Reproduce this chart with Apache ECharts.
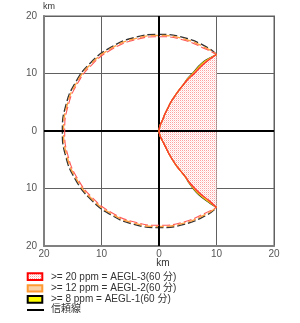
<!DOCTYPE html>
<html>
<head>
<meta charset="utf-8">
<script src="https://cdn.jsdelivr.net/npm/echarts@6/dist/echarts.min.js"></script>
<style>html,body{margin:0;padding:0;background:#fff;}#c{width:300px;height:323px;}</style>
</head>
<body>
<div id="c"></div>
<script>
// ---- data (km) ----
const tickValues = [-20, -10, 0, 10, 20];
const legendNames = ['>= 20 ppm = AEGL-3(60 分)', '>= 12 ppm = AEGL-2(60 分)', '>= 8 ppm = AEGL-1(60 分)', '信頼線'];

// threat zone boundary curves (x, y) from upper tip through origin to lower tip
const redCurve = [[10,13.3],[8.2,12],[7.1,11],[6.15,10],[5.05,9],[4.2,8],[3.4,7],[2.7,6],[2.05,5],[1.55,4],[1.05,3],[0.65,2],[0.2,1],[0,0],
  [0.25,-1],[0.75,-2],[1.25,-3],[1.75,-4],[2.35,-5],[3.0,-6],[3.8,-7],[4.6,-8],[5.35,-9],[6.25,-10],[7.3,-11],[8.6,-12],[10,-13.3]];
const orangeCurve = [[10,13.3],[8.1,12.05],[7.0,11.05],[6.07,10.05],[5.0,9.02],[4.2,8],[3.4,7],[2.7,6],[2.05,5],[1.55,4],[1.05,3],[0.65,2],[0.2,1],[0,0],
  [0.25,-1],[0.75,-2],[1.25,-3],[1.75,-4],[2.35,-5],[3.0,-6],[3.8,-7],[4.6,-8],[5.3,-9.02],[6.17,-10.05],[7.2,-11.05],[8.5,-12.05],[10,-13.3]];
const yellowCurve = [[10,13.3],[8.0,12.1],[6.9,11.1],[6.0,10.08],[4.97,9.03],[4.2,8],[3.4,7],[2.7,6],[2.05,5],[1.55,4],[1.05,3],[0.65,2],[0.2,1],[0,0],
  [0.25,-1],[0.75,-2],[1.25,-3],[1.75,-4],[2.35,-5],[3.0,-6],[3.8,-7],[4.6,-8],[5.27,-9.03],[6.1,-10.08],[7.1,-11.1],[8.4,-12.1],[10,-13.3]];
const blackCurve = [[10,13.3],[7.85,12.15],[6.78,11.15],[5.9,10.1],[4.92,9.05],[4.2,8],[3.4,7],[2.7,6],[2.05,5],[1.55,4],[1.05,3],[0.65,2],[0.2,1],[0,0],
  [0.25,-1],[0.75,-2],[1.25,-3],[1.75,-4],[2.35,-5],[3.0,-6],[3.8,-7],[4.6,-8],[5.22,-9.05],[6.0,-10.1],[6.98,-11.15],[8.25,-12.15],[10,-13.3]];

// dashed outer arcs
const blackArc = [[10,13.3],[8.4,14.55],[4.35,16.23],[0,16.8],[-4.35,16.23],[-8.4,14.55],[-11.88,11.88],[-14.55,8.4],[-16.23,4.35],[-16.8,0],[-16.23,-4.35],[-14.55,-8.4],[-11.88,-11.88],[-8.4,-14.55],[-4.35,-16.23],[0,-16.8],[4.35,-16.23],[8.4,-14.55],[10,-13.3]];
const orangeArc = [[10,13.3],[8.3,14.38],[4.3,16.03],[0,16.6],[-4.3,16.03],[-8.3,14.38],[-11.74,11.74],[-14.38,8.3],[-16.03,4.3],[-16.6,0],[-16.03,-4.3],[-14.38,-8.3],[-11.74,-11.74],[-8.3,-14.38],[-4.3,-16.03],[0,-16.6],[4.3,-16.03],[8.3,-14.38],[10,-13.3]];
const redArc = [[10,13.3],[8.2,14.2],[4.24,15.84],[0,16.4],[-4.24,15.84],[-8.2,14.2],[-11.6,11.6],[-14.2,8.2],[-15.84,4.24],[-16.4,0],[-15.84,-4.24],[-14.2,-8.2],[-11.6,-11.6],[-8.2,-14.2],[-4.24,-15.84],[0,-16.4],[4.24,-15.84],[8.2,-14.2],[10,-13.3]];

// ---- styles ----
function dotPattern(){
  const c = document.createElement('canvas'); c.width = 2; c.height = 2;
  const g = c.getContext('2d');
  g.fillStyle = '#ffffff'; g.fillRect(0,0,2,2);
  g.fillStyle = '#ffa0a0'; g.fillRect(0,0,1,1);
  g.fillStyle = '#ffdede'; g.fillRect(1,1,1,1);
  return c;
}
const pinkPattern = {image: dotPattern(), repeat: 'repeat'};
const FONT = "'Liberation Sans', Arial, 'Noto Sans CJK JP', sans-serif";

const chart = echarts.init(document.getElementById('c'), null, {renderer: 'canvas'});

function lineSeries(data, color, width, type, z, offset){
  return {
    type: 'line', data: data, smooth: 0.35, showSymbol: false, symbol: 'none',
    silent: true, animation: false, z: z,
    lineStyle: {color: color, width: width, type: type, dashOffset: offset || 0}
  };
}

const blackArcSeries = lineSeries(blackArc, '#333', 1.4, [8,3], 3, 0);
blackArcSeries.smooth = true;
blackArcSeries.markLine = {
  silent: true, symbol: 'none', animation: false,
  label: {show: false},
  lineStyle: {color: '#000', width: 2, type: 'solid'},
  data: [{xAxis: 0}, {yAxis: 0}]
};
const orangeArcSeries = lineSeries(orangeArc, '#ffa040', 1.4, [8,3], 4, 4);
orangeArcSeries.smooth = true;
const redArcSeries = lineSeries(redArc, '#ff5a5a', 1.1, [8,3], 5, 2);
redArcSeries.smooth = true;

function legendText(i, y){
  return {type: 'text', style: {x: 51, y: y, text: legendNames[i], font: '10px ' + FONT, fill: '#333', textVerticalAlign: 'middle', verticalAlign: 'middle'}};
}

const option = {
  animation: false,
  grid: {left: 44, top: 16, width: 230, height: 230, show: true, borderColor: '#b0b0b0', borderWidth: 2, containLabel: false},
  xAxis: {
    type: 'value', min: tickValues[0], max: tickValues[tickValues.length-1], interval: 10,
    name: 'km', nameLocation: 'middle', nameGap: 12, nameMoveOverlap: false,
    nameTextStyle: {fontFamily: FONT, fontSize: 10, color: '#333', padding: [0,0,0,8]},
    axisLine: {show: true, onZero: false, lineStyle: {color: '#808080', width: 2}},
    axisTick: {show: false},
    axisLabel: {fontFamily: FONT, fontSize: 10, color: '#555', margin: 3, formatter: v => String(Math.abs(v))},
    splitLine: {show: true, lineStyle: {color: '#606060', width: 1}}
  },
  yAxis: {
    type: 'value', min: tickValues[0], max: tickValues[tickValues.length-1], interval: 10,
    name: 'km', nameLocation: 'end', nameGap: 5, nameMoveOverlap: false,
    nameTextStyle: {fontFamily: FONT, fontSize: 9, color: '#333', align: 'left', padding: [0,0,0,-1]},
    axisLine: {show: true, onZero: false, lineStyle: {color: '#808080', width: 2}},
    axisTick: {show: false},
    axisLabel: {fontFamily: FONT, fontSize: 10, color: '#555', margin: 7, formatter: v => String(Math.abs(v))},
    splitLine: {show: true, lineStyle: {color: '#606060', width: 1}}
  },
  series: [
    {
      type: 'custom', silent: true, animation: false, z: 1,
      data: redCurve,
      encode: {x: 0, y: 1},
      renderItem: function(params, api){
        if (params.dataIndex !== 0) return null;
        const pts = redCurve.map(p => api.coord(p));
        return {type: 'polygon', shape: {points: pts}, style: {fill: pinkPattern, stroke: null}};
      }
    },
    blackArcSeries,
    orangeArcSeries,
    redArcSeries,
    lineSeries(blackCurve, '#222', 1.2, 'solid', 6),
    lineSeries(yellowCurve, '#e0d800', 1.4, 'solid', 7),
    lineSeries(orangeCurve, '#ff9a3c', 1.2, 'solid', 8),
    lineSeries(redCurve, '#ff3030', 1.2, 'solid', 9)
  ],
  graphic: [
    {type: 'rect', shape: {x: 27.7, y: 273.3, width: 14.6, height: 6.8}, style: {fill: pinkPattern, stroke: '#ff0000', lineWidth: 2}},
    {type: 'rect', shape: {x: 27.7, y: 285.2, width: 14.6, height: 6.2}, style: {fill: '#fad2a8', stroke: '#ff9a33', lineWidth: 2}},
    {type: 'rect', shape: {x: 27.7, y: 296.0, width: 14.6, height: 6.7}, style: {fill: '#ffff00', stroke: '#000', lineWidth: 2}},
    {type: 'line', shape: {x1: 27, y1: 310, x2: 44, y2: 310}, style: {stroke: '#000', lineWidth: 2}},
    legendText(0, 277),
    legendText(1, 288.3),
    legendText(2, 299.5),
    legendText(3, 309)
  ]
};
chart.setOption(option);
</script>
</body>
</html>
